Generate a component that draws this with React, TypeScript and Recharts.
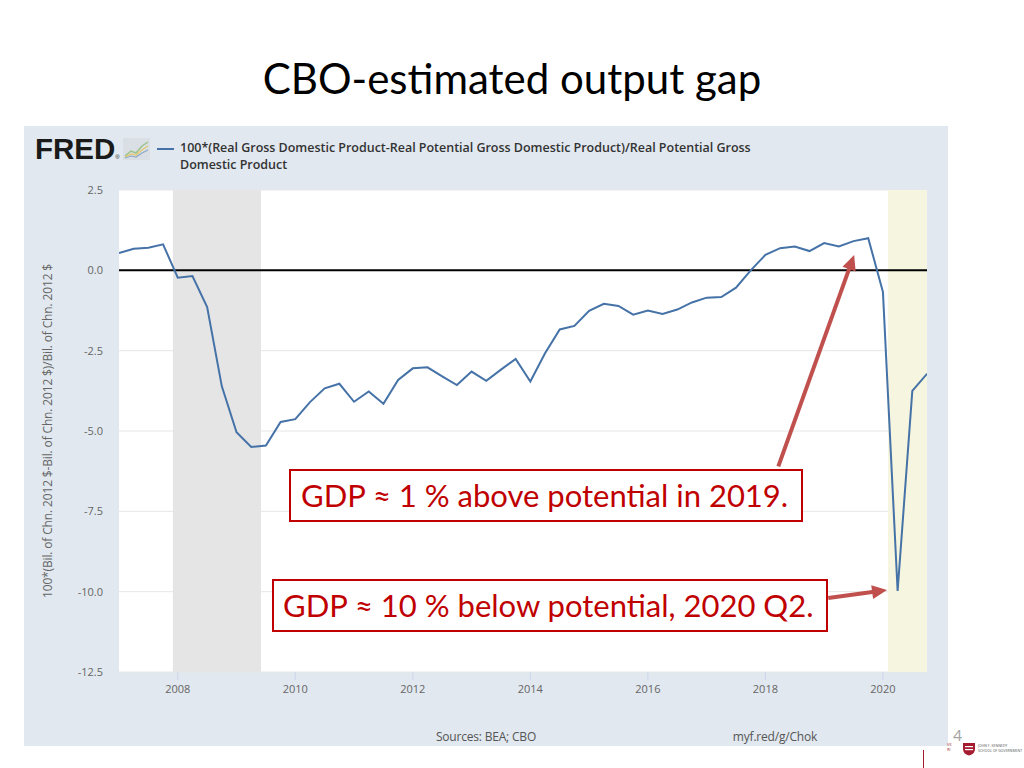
import React from 'react';
import {
  LineChart,
  Line,
  XAxis,
  YAxis,
  CartesianGrid,
  ReferenceLine,
  ReferenceArea,
} from 'recharts';

// ---------- data ----------
const quarters = [
  '2007Q1', '2007Q2', '2007Q3', '2007Q4',
  '2008Q1', '2008Q2', '2008Q3', '2008Q4',
  '2009Q1', '2009Q2', '2009Q3', '2009Q4',
  '2010Q1', '2010Q2', '2010Q3', '2010Q4',
  '2011Q1', '2011Q2', '2011Q3', '2011Q4',
  '2012Q1', '2012Q2', '2012Q3', '2012Q4',
  '2013Q1', '2013Q2', '2013Q3', '2013Q4',
  '2014Q1', '2014Q2', '2014Q3', '2014Q4',
  '2015Q1', '2015Q2', '2015Q3', '2015Q4',
  '2016Q1', '2016Q2', '2016Q3', '2016Q4',
  '2017Q1', '2017Q2', '2017Q3', '2017Q4',
  '2018Q1', '2018Q2', '2018Q3', '2018Q4',
  '2019Q1', '2019Q2', '2019Q3', '2019Q4',
  '2020Q1', '2020Q2', '2020Q3', '2020Q4',
];

const outputGap = [
  0.54, 0.67, 0.70, 0.81,
  -0.23, -0.18, -1.14, -3.61,
  -5.04, -5.50, -5.45, -4.72,
  -4.63, -4.10, -3.67, -3.53,
  -4.09, -3.77, -4.15, -3.41,
  -3.05, -3.02, -3.30, -3.57,
  -3.15, -3.44, -3.09, -2.76,
  -3.46, -2.58, -1.84, -1.73,
  -1.26, -1.04, -1.11, -1.38,
  -1.25, -1.36, -1.22, -1.00,
  -0.85, -0.83, -0.54, 0.00,
  0.48, 0.69, 0.74, 0.60,
  0.85, 0.74, 0.91, 1.00,
  -0.67, -9.98, -3.75, -3.22,
];

const yearTicks = [2008, 2010, 2012, 2014, 2016, 2018, 2020];
const valueTicks = [-12.5, -10, -7.5, -5, -2.5, 0, 2.5];

// recession shading (start month, end month)
const grayRecessionStart = '2007-12';
const grayRecessionEnd = '2009-06';
const covidShadeStart = '2020-02';
const covidShadeEnd = '2020-10';

// annotation arrows in data coordinates [year, value]
const arrowAboveFrom = [2018.22, -6.1];
const arrowAboveTo = [2019.51, 0.48];
const arrowBelowFrom = [2019.07, -10.2];
const arrowBelowTo = [2020.07, -9.95];

const titleText = 'CBO-estimated output gap';
const legendText =
  '100*(Real Gross Domestic Product-Real Potential Gross Domestic Product)/Real Potential Gross Domestic Product';
const yAxisTitle = '100*(Bil. of Chn. 2012 $-Bil. of Chn. 2012 $)/Bil. of Chn. 2012 $';
const noteAbove = 'GDP \u2248 1 % above potential in 2019.';
const noteBelow = 'GDP \u2248 10 % below potential, 2020 Q2.';

// ---------- helpers ----------
const quarterToYear = (q: string) => {
  const y = parseInt(q.slice(0, 4), 10);
  const n = parseInt(q.slice(5), 10);
  return y + (n - 1) / 4;
};
const monthToYear = (m: string) => {
  const [y, mo] = m.split('-').map((s) => parseInt(s, 10));
  return y + (mo - 1) / 12;
};

const chartData = quarters.map((q, i) => ({ t: quarterToYear(q), gap: outputGap[i] }));

const ARROW_COLOR = '#c0504d';
const FRED_FONT = '"Open Sans", "DejaVu Sans", sans-serif';
const SLIDE_FONT = 'Lato, "Open Sans", sans-serif';

const ArrowShape = (props: any) => {
  const { x1, y1, x2, y2 } = props;
  if ([x1, y1, x2, y2].some((v) => typeof v !== 'number' || isNaN(v))) return null;
  const dx = x2 - x1;
  const dy = y2 - y1;
  const len = Math.hypot(dx, dy) || 1;
  const ux = dx / len;
  const uy = dy / len;
  const head = 15;
  const half = 7;
  const bx = x2 - ux * head;
  const by = y2 - uy * head;
  const pts = `${x2},${y2} ${bx - uy * half},${by + ux * half} ${bx + uy * half},${by - ux * half}`;
  return (
    <g>
      <line x1={x1} y1={y1} x2={bx + ux * 2} y2={by + uy * 2} stroke={ARROW_COLOR} strokeWidth={4} />
      <polygon points={pts} fill={ARROW_COLOR} />
    </g>
  );
};

const FredIcon = () => (
  <svg width={27} height={22} style={{ position: 'absolute', left: 123, top: 138 }}>
    <rect x={0} y={0} width={27} height={22} fill="#d9dfe5" />
    <polyline points="2,18 8,13 13,15 19,8 25,4" fill="none" stroke="#9cc38a" strokeWidth={1.5} />
    <polyline points="2,19 8,16 13,17 19,12 25,8" fill="none" stroke="#e6c86a" strokeWidth={1.2} />
    <polyline points="2,20 8,18 13,19 19,15 25,12" fill="none" stroke="#8fa9c8" strokeWidth={1.2} />
  </svg>
);

export default function App() {
  return (
    <div
      style={{
        position: 'absolute',
        left: 0,
        top: 0,
        width: 1024,
        height: 768,
        background: '#ffffff',
        overflow: 'hidden',
      }}
    >
      {/* Slide title */}
      <div
        style={{
          position: 'absolute',
          left: 0,
          top: 52,
          width: 1024,
          textAlign: 'center',
          fontFamily: SLIDE_FONT,
          fontSize: 42,
          color: '#000',
          lineHeight: '52px',
        }}
      >
        {titleText}
      </div>

      {/* FRED panel */}
      <div
        style={{
          position: 'absolute',
          left: 24,
          top: 126,
          width: 924,
          height: 620,
          background: '#e1e8ef',
        }}
      >
        <LineChart
          width={924}
          height={620}
          data={chartData}
          margin={{ top: 64, right: 21, bottom: 44, left: 15 }}
        >
          <CartesianGrid horizontal vertical={false} stroke="#e6e6e6" fill="#ffffff" />
          <XAxis
            dataKey="t"
            type="number"
            domain={[2007, 2020.75]}
            ticks={yearTicks}
            allowDataOverflow
            height={30}
            axisLine={false}
            tickLine={{ stroke: '#ccd6eb' }}
            tickSize={8}
            tickMargin={5}
            tick={{ fill: '#666666', fontSize: 11, fontFamily: FRED_FONT }}
          />
          <YAxis
            type="number"
            domain={[-12.5, 2.5]}
            ticks={valueTicks}
            allowDataOverflow
            width={80}
            axisLine={false}
            tickLine={false}
            tickSize={6}
            tickMargin={10}
            tickFormatter={(v: number) => v.toFixed(1)}
            tick={{ fill: '#666666', fontSize: 11, fontFamily: FRED_FONT }}
            label={{
              value: yAxisTitle,
              angle: -90,
              position: 'insideLeft',
              offset: 9,
              style: {
                textAnchor: 'middle',
                fill: '#666666',
                fontSize: 12,
                fontFamily: FRED_FONT,
                letterSpacing: -0.15,
              },
            }}
          />
          <ReferenceArea
            x1={monthToYear(grayRecessionStart)}
            x2={monthToYear(grayRecessionEnd)}
            y1={-12.5}
            y2={2.5}
            fill="#e5e5e5"
            fillOpacity={1}
            stroke="none"
          />
          <ReferenceArea
            x1={monthToYear(covidShadeStart)}
            x2={monthToYear(covidShadeEnd)}
            y1={-12.5}
            y2={2.5}
            fill="#f6f5df"
            fillOpacity={1}
            stroke="none"
          />
          <ReferenceLine y={0} stroke="#000000" strokeWidth={2} />
          <Line
            type="linear"
            dataKey="gap"
            stroke="#4572a7"
            strokeWidth={2}
            dot={false}
            activeDot={false}
            isAnimationActive={false}
          />
          <ReferenceLine
            segment={[
              { x: arrowAboveFrom[0], y: arrowAboveFrom[1] },
              { x: arrowAboveTo[0], y: arrowAboveTo[1] },
            ]}
            ifOverflow="visible"
            shape={ArrowShape}
          />
          <ReferenceLine
            segment={[
              { x: arrowBelowFrom[0], y: arrowBelowFrom[1] },
              { x: arrowBelowTo[0], y: arrowBelowTo[1] },
            ]}
            ifOverflow="visible"
            shape={ArrowShape}
          />
        </LineChart>
      </div>

      {/* FRED logo */}
      <div
        style={{
          position: 'absolute',
          left: 35,
          top: 130,
          fontFamily: '"Liberation Sans", Arial, sans-serif',
          fontWeight: 900,
          fontSize: 29.5,
          letterSpacing: 0,
          color: '#1a1a1a',
          lineHeight: '38px',
          whiteSpace: 'nowrap',
        }}
      >
        FRED
        <span style={{ fontSize: 6, fontWeight: 400, letterSpacing: 0, verticalAlign: 'baseline' }}>®</span>
      </div>
      <FredIcon />

      {/* legend */}
      <div
        style={{
          position: 'absolute',
          left: 157,
          top: 148,
          width: 17,
          height: 2,
          background: '#4572a7',
        }}
      />
      <div
        style={{
          position: 'absolute',
          left: 180,
          top: 139,
          width: 590,
          fontFamily: FRED_FONT,
          fontWeight: 600,
          fontSize: 12.5,
          letterSpacing: -0.02,
          lineHeight: '17px',
          color: '#333333',
        }}
      >
        {legendText}
      </div>

      {/* footer */}
      <div
        style={{
          position: 'absolute',
          left: 380,
          top: 728,
          width: 212,
          textAlign: 'center',
          fontFamily: FRED_FONT,
          fontSize: 12,
          letterSpacing: -0.2,
          color: '#555555',
        }}
      >
        Sources: BEA; CBO
      </div>
      <div
        style={{
          position: 'absolute',
          left: 675,
          top: 728,
          width: 200,
          textAlign: 'center',
          fontFamily: FRED_FONT,
          fontSize: 12,
          letterSpacing: -0.2,
          color: '#555555',
        }}
      >
        myf.red/g/Chok
      </div>

      {/* annotation boxes */}
      <div
        style={{
          position: 'absolute',
          left: 289,
          top: 469,
          width: 500,
          height: 49,
          border: '2px solid #c00000',
          background: '#ffffff',
          color: '#c00000',
          fontFamily: SLIDE_FONT,
          fontSize: 31,
          lineHeight: '49px',
          paddingLeft: 10,
          whiteSpace: 'nowrap',
        }}
      >
        {noteAbove}
      </div>
      <div
        style={{
          position: 'absolute',
          left: 272,
          top: 579,
          width: 543,
          height: 49,
          border: '2px solid #c00000',
          background: '#ffffff',
          color: '#c00000',
          fontFamily: SLIDE_FONT,
          fontSize: 31,
          lineHeight: '49px',
          paddingLeft: 9,
          whiteSpace: 'nowrap',
        }}
      >
        {noteBelow}
      </div>

      {/* slide number and school mark */}
      <div
        style={{
          position: 'absolute',
          left: 953,
          top: 725,
          fontFamily: SLIDE_FONT,
          fontSize: 16,
          color: '#a6a6a6',
        }}
      >
        4
      </div>
      <div style={{ position: 'absolute', left: 923, top: 750, width: 1, height: 18, background: '#a51c30' }} />
      <div style={{ position: 'absolute', left: 947, top: 742, fontSize: 4, color: '#a51c30', fontFamily: FRED_FONT }}>
        VE<br />RI
      </div>
      <svg width={14} height={14} style={{ position: 'absolute', left: 962, top: 742 }}>
        <path d="M1,1 H13 V7 Q13,12 7,13.5 Q1,12 1,7 Z" fill="#a51c30" />
        <rect x={3} y={4} width={8} height={1.2} fill="#ffffff" />
        <rect x={3} y={7} width={8} height={1.2} fill="#ffffff" />
      </svg>
      <div
        style={{
          position: 'absolute',
          left: 978,
          top: 743,
          fontSize: 3.5,
          lineHeight: '5px',
          color: '#555',
          fontFamily: FRED_FONT,
          whiteSpace: 'nowrap',
        }}
      >
        JOHN F. KENNEDY
        <br />
        SCHOOL OF GOVERNMENT
      </div>
    </div>
  );
}
